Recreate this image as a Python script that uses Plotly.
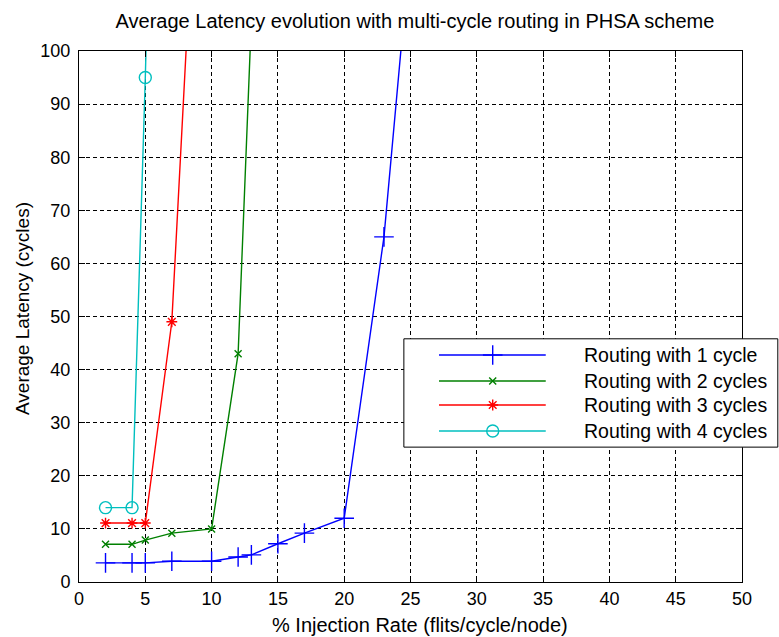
import plotly.graph_objects as go

# Injection rate (% flits/cycle/node) and average latency (cycles) per routing scheme
rate_1cyc = [2, 4, 5, 7, 10, 12, 13, 15, 17, 20, 23, 25]
lat_1cyc = [3.6, 3.6, 3.6, 3.9, 3.9, 4.7, 5.1, 7.2, 9.2, 12.0, 65.0, 120.0]

rate_2cyc = [2, 4, 5, 7, 10, 12, 13]
lat_2cyc = [7.1, 7.1, 7.9, 9.2, 10.0, 43.0, 106.0]

rate_3cyc = [2, 4, 5, 7, 9]
lat_3cyc = [11.1, 11.1, 11.1, 49.0, 144.0]

rate_4cyc = [2, 4, 5, 6]
lat_4cyc = [14.0, 14.0, 95.0, 190.0]

series_names = ["Routing with 1 cycle", "Routing with 2 cycles",
                "Routing with 3 cycles", "Routing with 4 cycles"]
x_ticks = list(range(0, 51, 5))
y_ticks = list(range(0, 101, 10))
X_RANGE = [0, 50]
Y_RANGE = [0, 100]

FONT = "Liberation Sans, Arial, sans-serif"

styles = [
    dict(color="#0000FF", symbol="cross-thin-open", size=14),
    dict(color="#008000", symbol="x-thin-open", size=7),
    dict(color="#FF0000", symbol="asterisk-open", size=9),
    dict(color="#00BFBF", symbol="circle-open", size=12),
]

fig = go.Figure()
data = [(rate_1cyc, lat_1cyc), (rate_2cyc, lat_2cyc),
        (rate_3cyc, lat_3cyc), (rate_4cyc, lat_4cyc)]
for (xs, ys), st, name in zip(data, styles, series_names):
    fig.add_trace(go.Scatter(
        x=xs, y=ys, mode="lines+markers", name=name, showlegend=False,
        line=dict(color=st["color"], width=1.4),
        marker=dict(symbol=st["symbol"], size=st["size"], color=st["color"],
                    line=dict(color=st["color"], width=1.4)),
    ))

# Boxed legend: sample line with marker in the middle, label to the right
row_y = [0.4275, 0.3785, 0.3333, 0.2844]
line_x0, line_x1, mark_x = 0.543, 0.704, 0.624
for st, name, yy in zip(styles, series_names, row_y):
    fig.add_trace(go.Scatter(
        x=[line_x0, line_x1], y=[yy, yy], mode="lines", xaxis="x2", yaxis="y2",
        showlegend=False, hoverinfo="skip",
        line=dict(color=st["color"], width=1.4)))
    fig.add_trace(go.Scatter(
        x=[mark_x], y=[yy], mode="markers", xaxis="x2", yaxis="y2",
        showlegend=False, hoverinfo="skip",
        marker=dict(symbol=st["symbol"], size=st["size"], color=st["color"],
                    line=dict(color=st["color"], width=1.4))))
    fig.add_annotation(x=0.758, y=yy, xref="paper", yref="paper",
                       text=name, showarrow=False, xanchor="left",
                       yanchor="middle", font=dict(family=FONT, size=19.5, color="black"))

box_x0, box_x1, box_y0, box_y1 = 0.490, 1.054, 0.254, 0.458


def to_x(f):
    return X_RANGE[0] + f * (X_RANGE[1] - X_RANGE[0])


def to_y(f):
    return Y_RANGE[0] + f * (Y_RANGE[1] - Y_RANGE[0])


# white panel behind the legend samples (hides the grid inside the plot area)
fig.add_shape(type="rect", xref="x", yref="y", layer="between",
              x0=to_x(box_x0), x1=to_x(1.0), y0=to_y(box_y0), y1=to_y(box_y1),
              line=dict(width=0), fillcolor="white")
# right-hand part of the legend, drawn over the axis line and its ticks
fig.add_shape(type="rect", xref="paper", yref="paper", layer="above",
              x0=0.975, x1=box_x1, y0=box_y0, y1=box_y1,
              line=dict(width=0), fillcolor="white")
# legend frame
fig.add_shape(type="rect", xref="paper", yref="paper", layer="above",
              x0=box_x0, x1=box_x1, y0=box_y0, y1=box_y1,
              line=dict(color="black", width=1), fillcolor="rgba(0,0,0,0)")

axis_common = dict(
    showline=True, linecolor="black", linewidth=1, mirror="ticks",
    ticks="inside", ticklen=6, tickcolor="black",
    showgrid=True, gridcolor="black", gridwidth=1, griddash="4px,3px",
    zeroline=False, tickfont=dict(family=FONT, size=18, color="black"),
)

fig.update_layout(
    width=779, height=637,
    margin=dict(l=79, r=37, t=51, b=55),
    paper_bgcolor="white", plot_bgcolor="white",
    font=dict(family=FONT, size=18, color="black"),
    title=dict(text="Average Latency evolution with multi-cycle routing in PHSA scheme",
               x=415 / 779, xref="container", xanchor="center",
               y=1 - 21 / 637, yref="container", yanchor="middle",
               font=dict(family=FONT, size=20, color="black")),
    xaxis=dict(range=X_RANGE, tickvals=x_ticks, ticklabelstandoff=0, **axis_common),
    yaxis=dict(range=Y_RANGE, tickvals=y_ticks, ticklabelstandoff=4, **axis_common),
    xaxis2=dict(range=[0, 1], overlaying="x", visible=False),
    yaxis2=dict(range=[0, 1], overlaying="y", visible=False),
    showlegend=False,
)

fig.add_annotation(text="% Injection Rate (flits/cycle/node)", x=0.514, y=-0.081,
                   xref="paper", yref="paper", showarrow=False,
                   xanchor="center", yanchor="middle",
                   font=dict(family=FONT, size=20, color="black"))
fig.add_annotation(text="Average Latency (cycles)", x=-0.086, y=0.516,
                   xref="paper", yref="paper", showarrow=False, textangle=-90,
                   xanchor="center", yanchor="middle",
                   font=dict(family=FONT, size=19, color="black"))

fig.write_html("out.html")
